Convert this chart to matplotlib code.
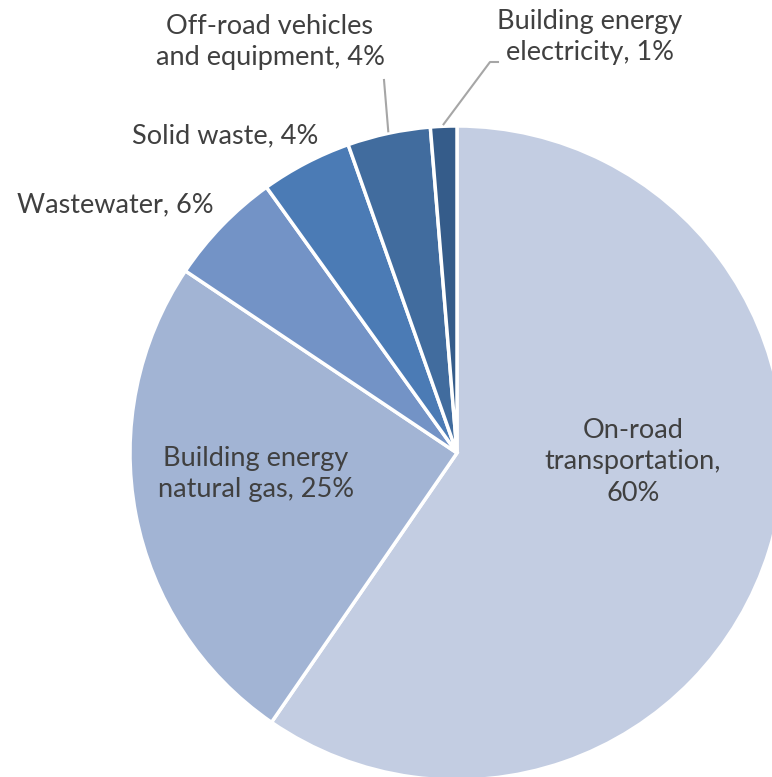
import numpy as np
import matplotlib
matplotlib.use("Agg")
from matplotlib import pyplot as plt

# Emission share by sector (%), clockwise from 12 o'clock
sectors = ["On-road\ntransportation,\n60%",
           "Building energy\nnatural gas, 25%",
           "Wastewater, 6%",
           "Solid waste, 4%",
           "Off-road vehicles\nand equipment, 4%",
           "Building energy\nelectricity, 1%"]
shares = [59.6, 24.8, 5.7, 4.5, 4.1, 1.3]
colors = ["#C3CDE2", "#A2B4D4", "#7393C6", "#4B7BB5", "#416C9E", "#355C8A"]

plt.rcParams['font.family'] = ['Lato', 'DejaVu Sans']
text_color = "#404040"

fig = plt.figure(figsize=(7.72, 7.77), dpi=100)
ax = fig.add_axes([0, 0, 1, 1])

cx, cy, r = 457, 777 - 453, 327
wedges, _ = ax.pie(shares, colors=colors, startangle=90, counterclock=False,
                   center=(cx, cy), radius=r, frame=True,
                   wedgeprops=dict(edgecolor="white", linewidth=2.5))
ax.set_xlim(0, 772)
ax.set_ylim(0, 777)
ax.set_aspect("equal")
ax.axis("off")

# label positions (pixels, top-left origin)
label_pos = [(633, 462), (256, 474), (115, 205), (225, 136), (270, 42), (590, 37)]
fs = 19.5
for lbl, (x, y) in zip(sectors, label_pos):
    ax.text(x, 777 - y, lbl, ha="center", va="center", fontsize=fs,
            color=text_color, linespacing=1.32)


def edge_point(w, rr):
    ang = np.deg2rad((w.theta1 + w.theta2) / 2)
    return cx + rr * np.cos(ang), cy + rr * np.sin(ang)


# leader lines
ex, ey = edge_point(wedges[4], r + 2)
ax.plot([384, ex], [777 - 80, ey], color="#A6A6A6", lw=1.5)
ex, ey = edge_point(wedges[5], r + 2)
ax.plot([498, 490, ex], [777 - 62, 777 - 62, ey], color="#A6A6A6", lw=1.5)

plt.savefig("out.png", dpi=100)
